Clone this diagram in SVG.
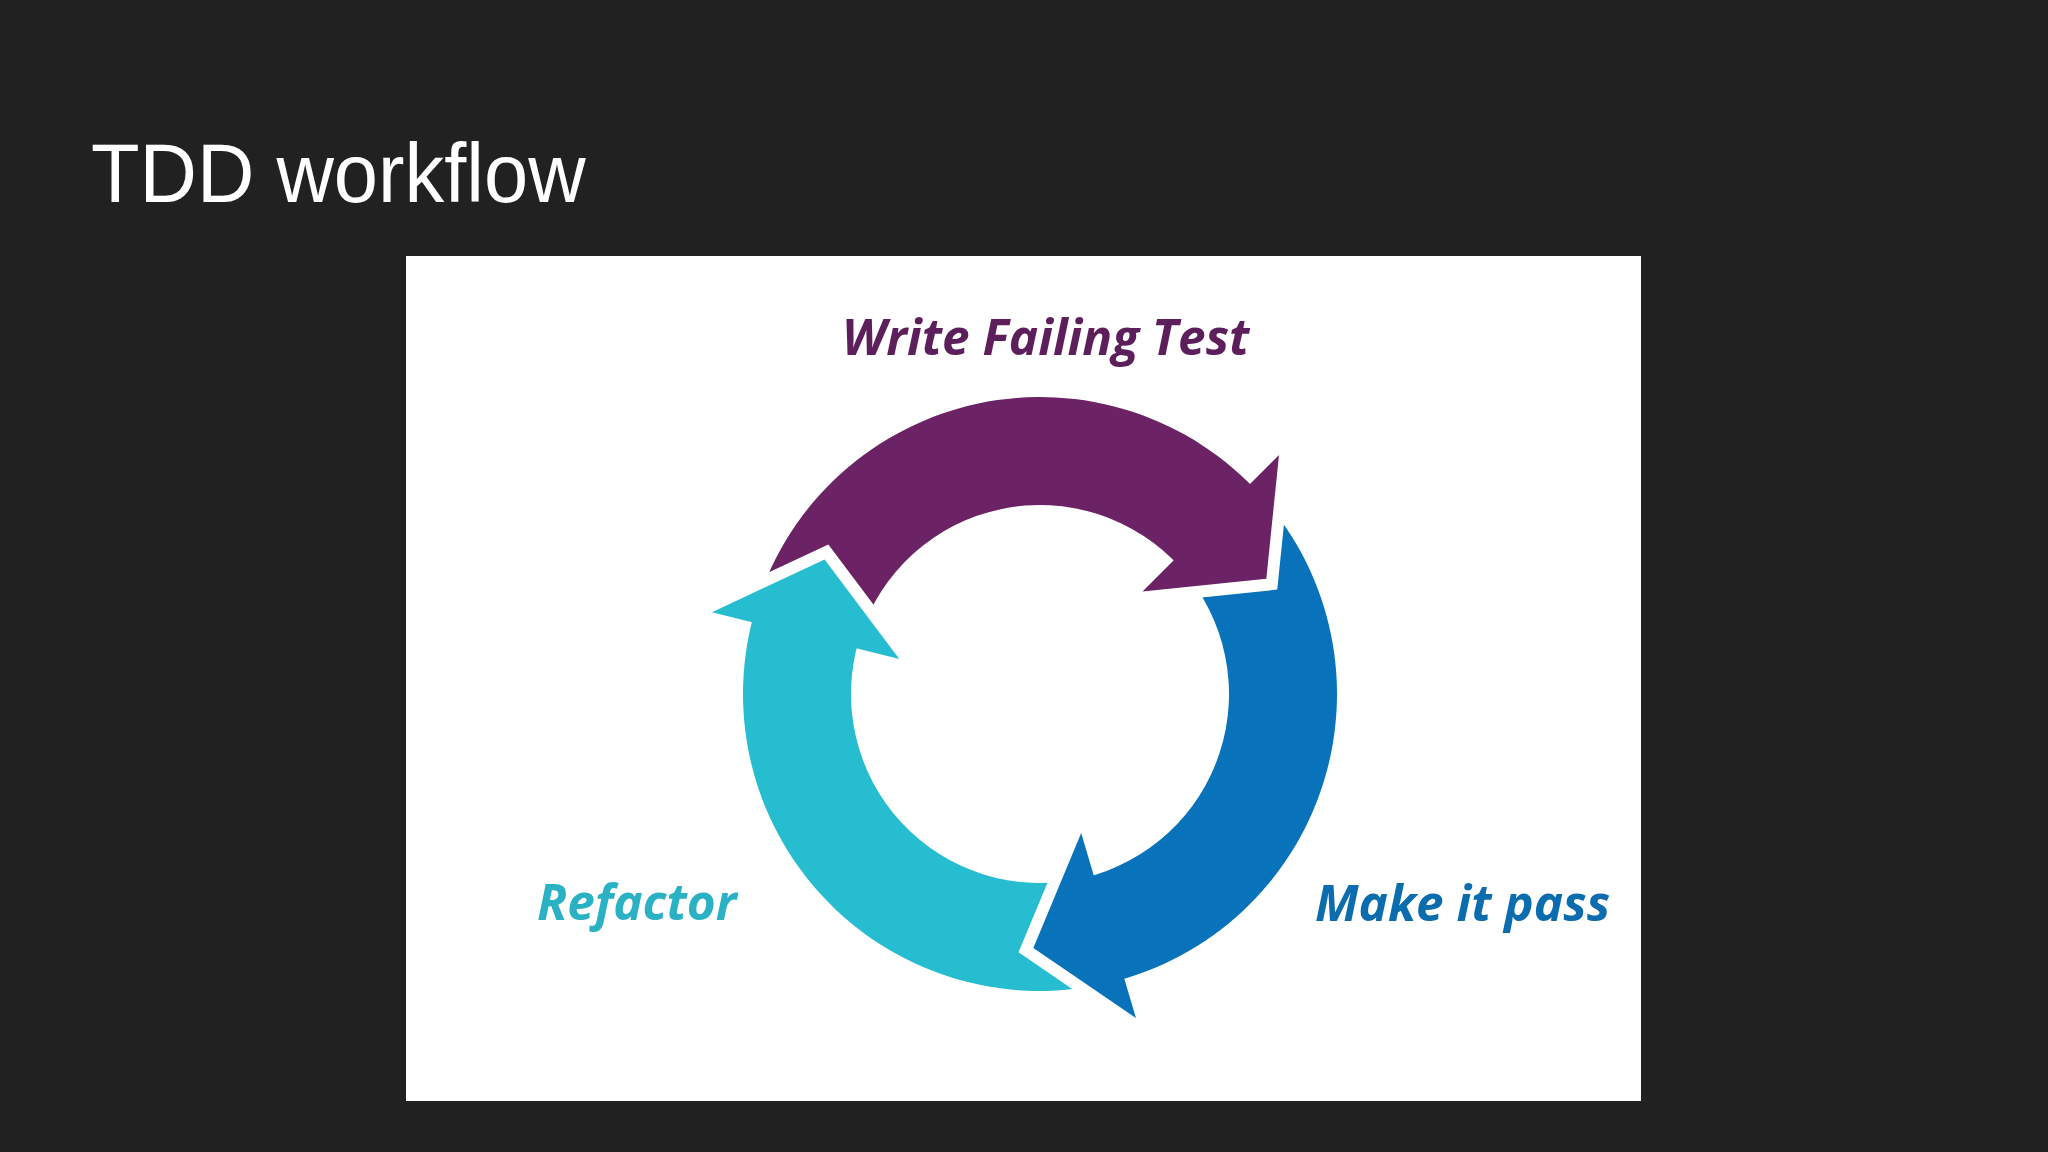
<svg xmlns="http://www.w3.org/2000/svg" width="2048" height="1152" viewBox="0 0 2048 1152">
  <style>
    .title { font-family: "Liberation Sans", Arial, sans-serif; font-size: 79.5px; fill: #ffffff; }
    .label { font-family: "Open Sans", "Liberation Sans", sans-serif; font-weight: 700; font-style: italic; font-size: 49.5px; }
    .gap { fill: none; stroke: #ffffff; stroke-width: 24; stroke-linejoin: miter; }
    .purple { fill: #6b2366; }
    .blue { fill: #0873ba; }
    .teal { fill: #26bdd1; }
  </style>
  <rect x="0" y="0" width="2048" height="1152" fill="#212121"/>
  <text class="title" x="91" y="0" transform="translate(0,202) scale(1,1.06)">TDD workflow</text>
  <rect x="406" y="256" width="1235" height="845" fill="#ffffff"/>

  <g id="connectors">
    <!-- arrow bodies -->
    <path class="purple" d="M 757.54 602.22 A 297 297 0 0 1 1260.71 495.27 L 1180.45 567.53 A 189 189 0 0 0 860.25 635.60 Z"/>
    <path class="blue" d="M 1264.15 499.15 A 297 297 0 0 1 1109.33 982.79 L 1084.12 877.78 A 189 189 0 0 0 1182.64 570.00 Z"/>
    <path class="teal" d="M 1104.28 983.96 A 297 297 0 0 1 755.98 607.17 L 859.26 638.74 A 189 189 0 0 0 1080.91 878.52 Z"/>
    <!-- white gaps in front of the heads -->
    <path class="gap" d="M 1279 455 L 1266.32 578.69 L 1142.53 591.47"/>
    <path class="gap" d="M 1136 1018.08 L 1033.35 947.91 L 1081.18 833.03"/>
    <path class="gap" d="M 712.04 612.23 L 824.60 559.40 L 899.31 658.92"/>
    <!-- arrow heads -->
    <path class="purple" d="M 1279 455 L 1266.32 578.69 L 1142.53 591.47 Z"/>
    <path class="blue" d="M 1136 1018.08 L 1033.35 947.91 L 1081.18 833.03 Z"/>
    <path class="teal" d="M 712.04 612.23 L 824.60 559.40 L 899.31 658.92 Z"/>
  </g>

  <g id="node-write-failing-test">
    <text class="label" x="842" y="355" fill="#5d1f5c">Write Failing Test</text>
  </g>
  <g id="node-make-it-pass">
    <text class="label" x="1315" y="921" fill="#0b6cae">Make it pass</text>
  </g>
  <g id="node-refactor">
    <text class="label" x="537" y="920" fill="#2ab2c4">Refactor</text>
  </g>
</svg>
